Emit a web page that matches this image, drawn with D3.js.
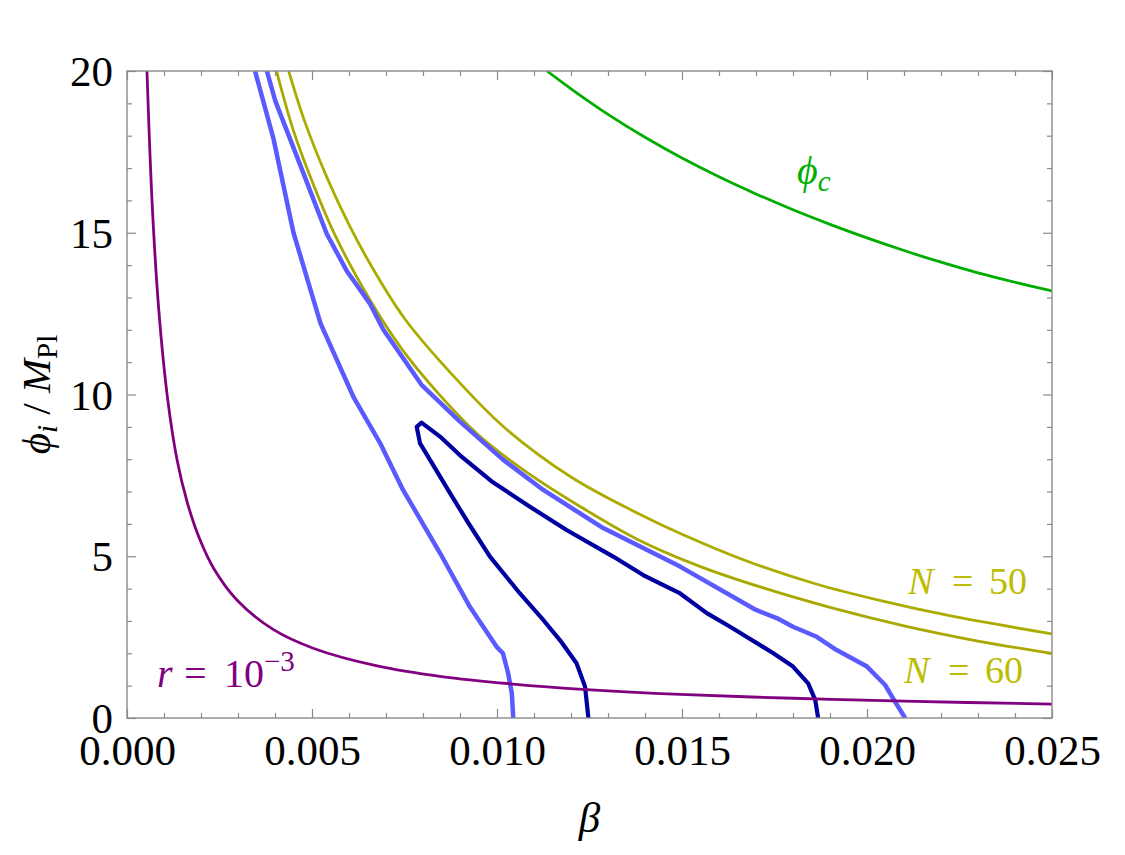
<!DOCTYPE html>
<html>
<head>
<meta charset="utf-8">
<title>phi_i vs beta</title>
<style>
    body { margin: 0; background: #fff; }
    svg text { font-family: "Liberation Serif", "Times New Roman", serif; }
    .frame { fill: none; stroke: #8a8a8a; stroke-width: 1.4px; }
    .axis path { display: none; }
    .axis line { stroke: #8a8a8a; stroke-width: 1.2px; }
    .axis text { font-size: 43px; fill: #000; }
    .curve { fill: none; stroke-linejoin: round; stroke-linecap: butt; }
</style>
</head>
<body>
<div id="chart"></div>
<script src="https://d3js.org/d3.v7.min.js"></script>
<script>
// r = 10^-3 contour
const betaR = [0.00054, 0.00068, 0.00086, 0.0011, 0.00135, 0.00162, 0.00194, 0.00234, 0.00297, 0.00396, 0.00505, 0.00676, 0.0085, 0.01043, 0.01243, 0.01495, 0.018, 0.021, 0.025];
const phiR  = [20, 15.9, 12.6, 9.85, 8.0, 6.7, 5.6, 4.63, 3.65, 2.73, 2.15, 1.61, 1.28, 1.05, 0.88, 0.73, 0.61, 0.52, 0.43];

// light blue, left branch
const betaBL = [0.00346, 0.00396, 0.0045, 0.00523, 0.00613, 0.00684, 0.00746, 0.00846, 0.00927, 0.00999, 0.01016, 0.0103, 0.0104, 0.01044];
const phiBL  = [20, 17.9, 15, 12.2, 9.9, 8.5, 7.05, 5.1, 3.43, 2.2, 2.0, 1.39, 0.77, 0];

// light blue, right branch
const betaBR = [0.00378, 0.00401, 0.00468, 0.0054, 0.00595, 0.00657, 0.00693, 0.00796, 0.009, 0.01017, 0.01125, 0.01287, 0.01495, 0.0170, 0.01756, 0.018, 0.01864, 0.01918, 0.02, 0.02049, 0.02076, 0.02103];
const phiBR  = [20, 19.07, 17.1, 14.96, 13.8, 12.8, 12.0, 10.3, 9.16, 7.98, 7.05, 5.87, 4.68, 3.34, 3.09, 2.82, 2.51, 2.1, 1.59, 1.02, 0.5, 0];

// dark blue contour
const betaD = [0.01247, 0.01238, 0.01215, 0.0117, 0.01125, 0.01062, 0.00981, 0.00923, 0.00873, 0.00819, 0.00792, 0.00783, 0.00796, 0.00846, 0.009, 0.00985, 0.01089, 0.01188, 0.01314, 0.01395, 0.01495, 0.01567, 0.0163, 0.01747, 0.018, 0.01841, 0.0186, 0.01868];
const phiD  = [0, 0.97, 1.69, 2.41, 3.03, 3.85, 4.99, 6.02, 6.95, 7.98, 8.49, 9.0, 9.13, 8.7, 8.12, 7.32, 6.53, 5.81, 4.99, 4.42, 3.85, 3.24, 2.82, 2.0, 1.59, 1.07, 0.56, 0];

// N = 60 (inner) and N = 50 (outer)
const betaN60 = [0.00404, 0.0045, 0.005, 0.0056, 0.0065, 0.0074, 0.0084, 0.0095, 0.0108, 0.0122, 0.0138, 0.0155, 0.0172, 0.019, 0.021, 0.023, 0.025];
const phiN60  = [20, 18.15, 16.6, 14.98, 13.05, 11.45, 10.05, 8.75, 7.6, 6.57, 5.52, 4.68, 4.02, 3.42, 2.85, 2.38, 2.0];
const betaN50 = [0.00437, 0.0048, 0.0054, 0.006, 0.0066, 0.0075, 0.0088, 0.0102, 0.012, 0.0138, 0.015, 0.0168, 0.0186, 0.0204, 0.0222, 0.025];
const phiN50  = [20, 18.45, 16.72, 15.25, 13.98, 12.35, 10.6, 8.98, 7.45, 6.33, 5.68, 4.83, 4.15, 3.62, 3.17, 2.6];

// phi_c
const betaC = [0.01135, 0.012, 0.013, 0.014, 0.015, 0.016, 0.017, 0.018, 0.019, 0.020, 0.021, 0.022, 0.023, 0.024, 0.025];
const phiC  = [20, 19.45, 18.66, 17.95, 17.31, 16.73, 16.2, 15.71, 15.26, 14.84, 14.45, 14.09, 13.76, 13.47, 13.2];

const xMajor = [0, 0.005, 0.010, 0.015, 0.020, 0.025];
const yMajor = [0, 5, 10, 15, 20];

const width = 1125, height = 855;
const m = { left: 127, right: 1052, top: 71, bottom: 718 };

const svg = d3.select("#chart").append("svg")
    .attr("width", width)
    .attr("height", height);

const x = d3.scaleLinear().domain([0, 0.025]).range([m.left, m.right]);
const y = d3.scaleLinear().domain([0, 20]).range([m.bottom, m.top]);

const xMinor = d3.range(0, 26).map(i => i * 0.001).filter(v => !xMajor.some(t => Math.abs(t - v) < 1e-9));
const yMinor = d3.range(0, 21).filter(v => v % 5 !== 0);

// axes, ticks point inward on all four sides
svg.append("g").attr("class", "axis xlab")
    .attr("transform", `translate(0,${m.bottom})`)
    .call(d3.axisBottom(x).tickValues(xMajor).tickSize(-9).tickPadding(18).tickFormat(d3.format(".3f")));
svg.append("g").attr("class", "axis")
    .attr("transform", `translate(0,${m.bottom})`)
    .call(d3.axisBottom(x).tickValues(xMinor).tickSize(-5).tickFormat(""));
svg.append("g").attr("class", "axis")
    .attr("transform", `translate(0,${m.top})`)
    .call(d3.axisTop(x).tickValues(xMajor).tickSize(-9).tickFormat(""));
svg.append("g").attr("class", "axis")
    .attr("transform", `translate(0,${m.top})`)
    .call(d3.axisTop(x).tickValues(xMinor).tickSize(-5).tickFormat(""));

svg.append("g").attr("class", "axis ylab")
    .attr("transform", `translate(${m.left},0)`)
    .call(d3.axisLeft(y).tickValues(yMajor).tickSize(-9).tickPadding(14).tickFormat(d3.format("d")));
svg.append("g").attr("class", "axis")
    .attr("transform", `translate(${m.left},0)`)
    .call(d3.axisLeft(y).tickValues(yMinor).tickSize(-5).tickFormat(""));
svg.append("g").attr("class", "axis")
    .attr("transform", `translate(${m.right},0)`)
    .call(d3.axisRight(y).tickValues(yMajor).tickSize(-9).tickFormat(""));
svg.append("g").attr("class", "axis")
    .attr("transform", `translate(${m.right},0)`)
    .call(d3.axisRight(y).tickValues(yMinor).tickSize(-5).tickFormat(""));

svg.selectAll(".xlab text").attr("dy", "0.68em");
svg.selectAll(".ylab text").attr("dy", "0.34em");

svg.append("defs").append("clipPath").attr("id", "plotClip")
    .append("rect").attr("x", m.left).attr("y", m.top)
    .attr("width", m.right - m.left).attr("height", m.bottom - m.top);

const plot = svg.append("g").attr("clip-path", "url(#plotClip)");

function pairs(bs, ps) { return bs.map((b, i) => [b, ps[i]]); }

const smooth = d3.line().x(d => x(d[0])).y(d => y(d[1])).curve(d3.curveCatmullRom.alpha(0.5));
const poly = d3.line().x(d => x(d[0])).y(d => y(d[1]));

const curves = [
    { data: pairs(betaC, phiC), color: "#00ad00", w: 2.8, line: smooth },
    { data: pairs(betaN50, phiN50), color: "#acac00", w: 2.8, line: smooth },
    { data: pairs(betaN60, phiN60), color: "#a8a800", w: 2.8, line: smooth },
    { data: pairs(betaBL, phiBL), color: "#5a5aff", w: 4.5, line: poly },
    { data: pairs(betaBR, phiBR), color: "#5a5aff", w: 4.5, line: poly },
    { data: pairs(betaD, phiD), color: "#0000a0", w: 4.2, line: poly },
    { data: pairs(betaR, phiR), color: "#800080", w: 2.8, line: smooth }
];

plot.selectAll("path.curve")
    .data(curves)
    .enter().append("path")
    .attr("class", "curve")
    .attr("d", d => d.line(d.data))
    .attr("stroke", d => d.color)
    .attr("stroke-width", d => d.w);

svg.append("rect").attr("class", "frame")
    .attr("x", m.left).attr("y", m.top)
    .attr("width", m.right - m.left).attr("height", m.bottom - m.top);

// curve labels
const phiLbl = svg.append("text")
    .attr("x", 797).attr("y", 184)
    .attr("fill", "#00b000").style("font-size", "40px");
phiLbl.append("tspan").style("font-style", "italic").text("ϕ");
phiLbl.append("tspan").style("font-style", "italic").style("font-size", "29px").attr("dy", 7).text("c");

function eqLabel(txt, xs, yb, size, color) {
    const t = svg.append("text").attr("y", yb).attr("fill", color).style("font-size", size + "px");
    txt.forEach((s, i) => {
        t.append("tspan").attr("x", xs[i]).style("font-style", i === 0 ? "italic" : "normal").text(s);
    });
    return t;
}

eqLabel(["N", "=", "50"], [908, 952, 989], 594, 38, "#bcbc00");
eqLabel(["N", "=", "60"], [904, 948, 985], 683, 38, "#bcbc00");

const rLbl = eqLabel(["r", "=", "10"], [157, 184, 224], 687, 40, "#800080");
rLbl.append("tspan").attr("dy", -16).style("font-size", "29px").text("\u22123");

// axis titles
svg.append("text")
    .attr("x", (m.left + m.right) / 2).attr("y", 832)
    .attr("text-anchor", "middle")
    .style("font-size", "43px").style("font-style", "italic")
    .text("β");

const yLbl = svg.append("text")
    .attr("transform", `translate(50,${(m.top + m.bottom) / 2}) rotate(-90)`)
    .attr("text-anchor", "middle")
    .style("font-size", "41px");
yLbl.append("tspan").style("font-style", "italic").text("ϕ");
yLbl.append("tspan").style("font-style", "italic").style("font-size", "29px").attr("dy", 7).text("i");
yLbl.append("tspan").attr("dy", -7).text(" / ");
yLbl.append("tspan").style("font-style", "italic").text("M");
yLbl.append("tspan").style("font-size", "29px").attr("dy", 7).text("Pl");
</script>
</body>
</html>
